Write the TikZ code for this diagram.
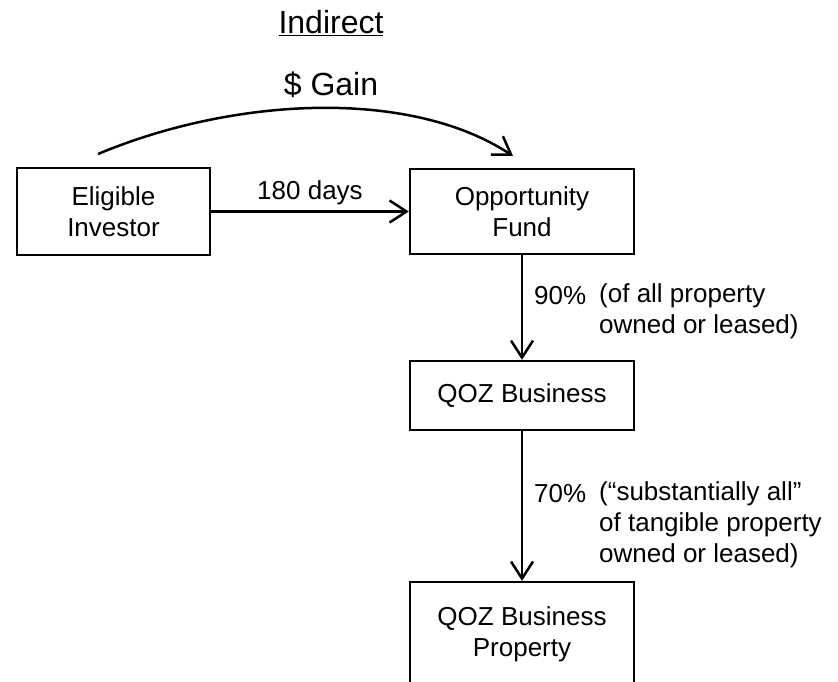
\documentclass[tikz,border=0pt]{standalone}
\usepackage{fontspec}
\setmainfont{Liberation Sans}
\usetikzlibrary{arrows.meta}
\begin{document}
\begin{tikzpicture}[x=1pt,y=-1pt,
  boxnode/.style={draw,line width=2.3pt,align=center,inner sep=0pt,
    font=\fontsize{26}{31}\selectfont},
  lbl/.style={inner sep=0pt,align=left,font=\fontsize{26}{31}\selectfont},
  conn/.style={line width=2.5pt,-{Straight Barb[length=17pt,width=22pt,line width=2.5pt]}}]
\useasboundingbox (0,0) rectangle (838,681);
\begin{scope}
\clip (0,0) rectangle (838,681);
\node[lbl,font=\fontsize{32}{38}\selectfont,anchor=base] (title) at (331,33) {\underline{Indirect}};
\node[lbl,font=\fontsize{32}{38}\selectfont,anchor=base] (gain) at (331,95) {\$ Gain};
\node[boxnode,minimum width=193pt,minimum height=87pt] (elig) at (113.5,211.5) {Eligible\\Investor};
\node[boxnode,minimum width=224pt,minimum height=85pt] (opp) at (522,211.5) {Opportunity\\Fund};
\node[boxnode,minimum width=224pt,minimum height=69pt] (qoz) at (522,395.5) {QOZ Business};
\node[boxnode,minimum width=224pt,minimum height=104pt] (prop) at (522,634) {QOZ Business\\Property};
\coordinate (gs) at (98,154);
\coordinate (ge) at (513,156);
\draw[conn] (gs) .. controls (234,97) and (410,88) .. (ge);
\draw[conn] (elig.east) -- (opp.west) node[lbl,midway,anchor=base,yshift=12pt] (days) {180 days};
\draw[conn] (opp.south) -- (qoz.north);
\draw[conn] (qoz.south) -- (prop.north);
\node[lbl,anchor=west] (p90) at (534,296) {90\%};
\node[lbl,anchor=west] (t90) at (599,311) {(of all property\\owned or leased)};
\node[lbl,anchor=west] (p70) at (534,494) {70\%};
\node[lbl,anchor=west] (t70) at (599,525) {(“substantially all”\\of tangible property\\owned or leased)};
\end{scope}
\end{tikzpicture}
\end{document}
